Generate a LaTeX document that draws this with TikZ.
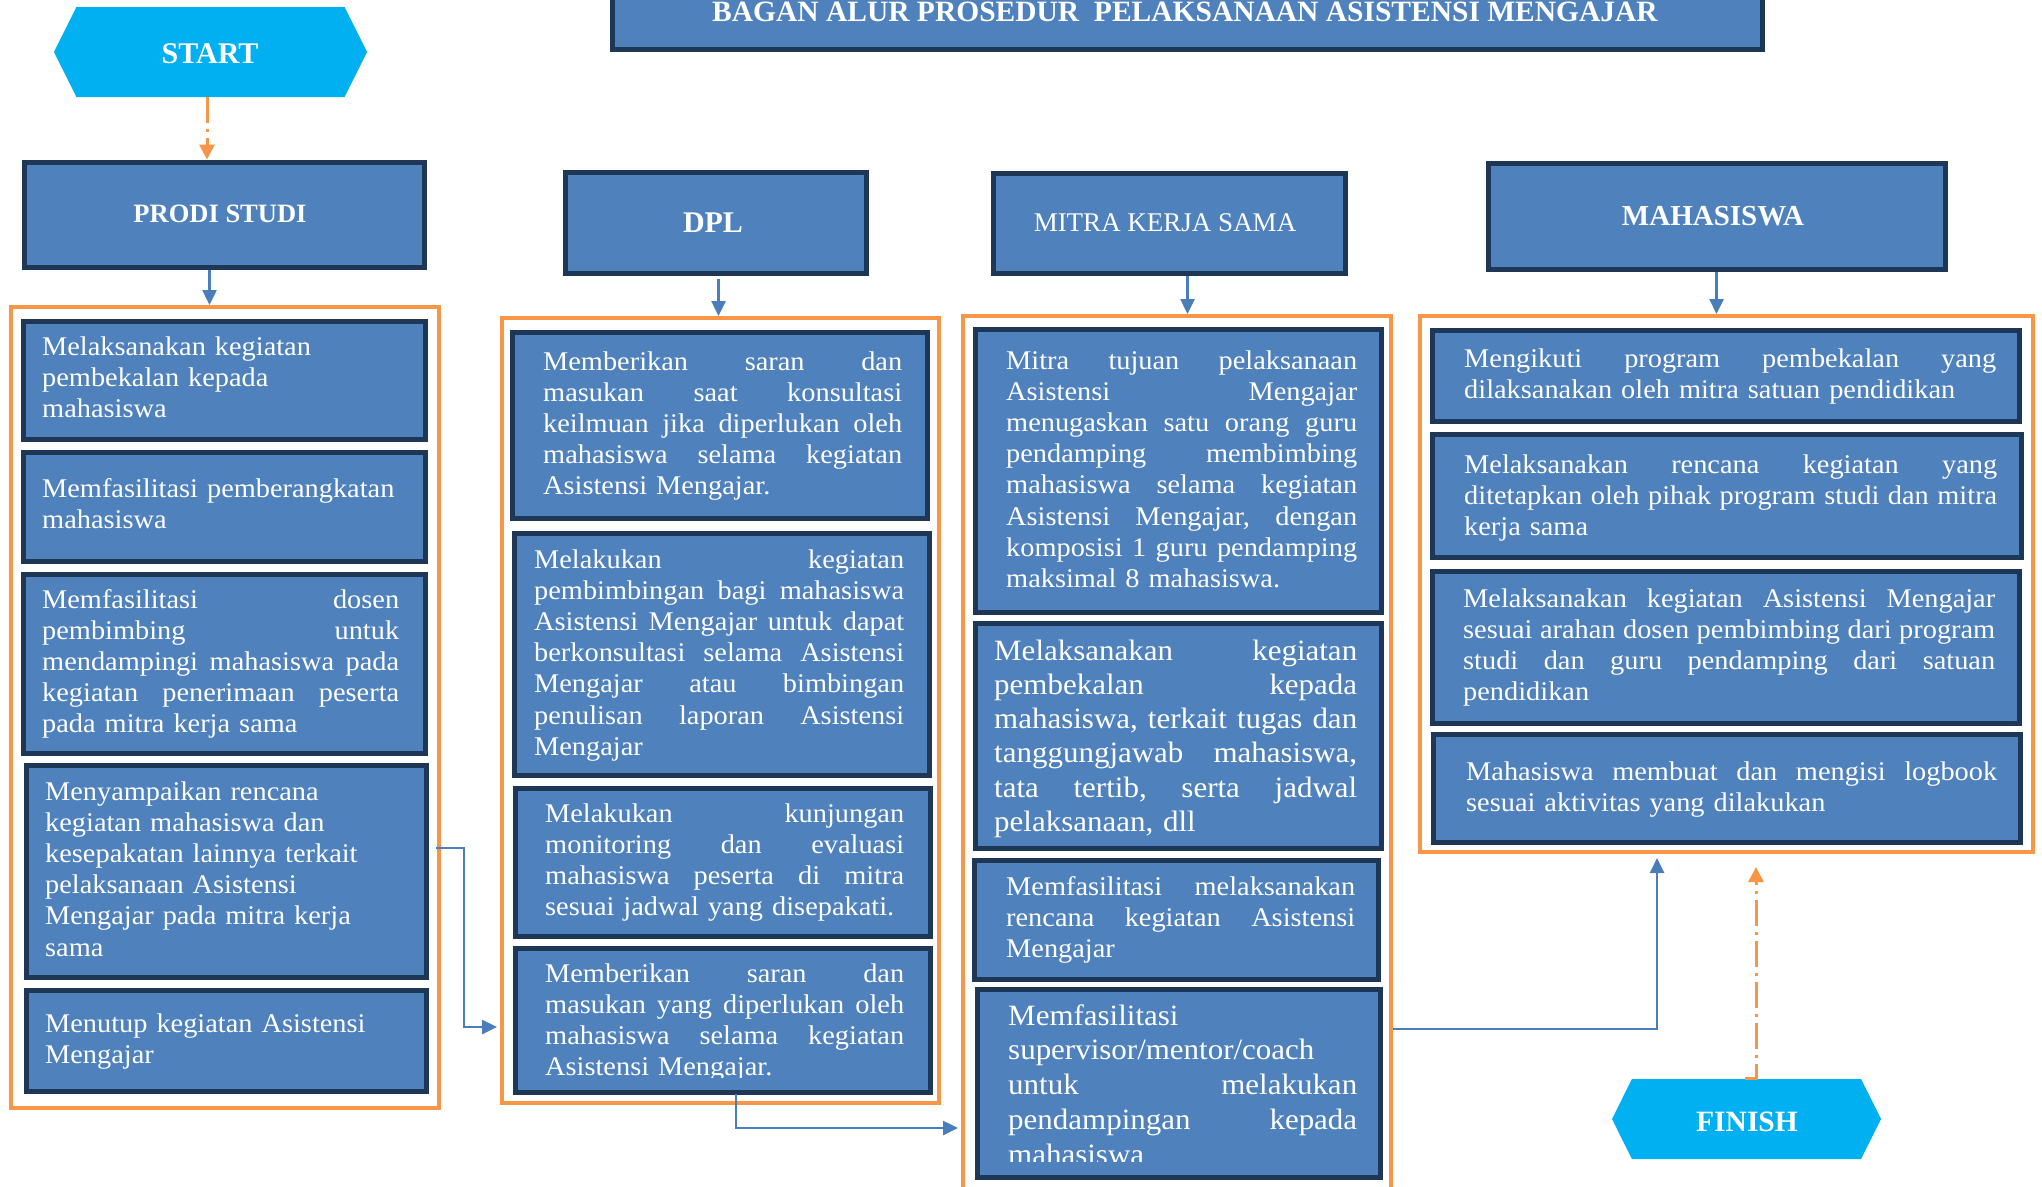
\documentclass[tikz,border=0pt]{standalone}
\usepackage{fontspec}
\setmainfont{Liberation Serif}
\newfontfamily\bodyfont[FakeStretch=1.05]{Liberation Serif}
\usetikzlibrary{arrows.meta,shapes.symbols}
\definecolor{boxblue}{HTML}{4F81BD}
\definecolor{navyb}{HTML}{1F3756}
\definecolor{orng}{HTML}{F79646}
\definecolor{hexcyan}{HTML}{00B0F0}
\definecolor{connblue}{HTML}{4A7EBB}
\newlength\jw
\ExplSyntaxOn
\tl_new:N \l_jline_tl
\NewDocumentCommand \J { m }
 {
  \tl_set:Nn \l_jline_tl { #1 }
  \tl_replace_all:Nnn \l_jline_tl { ~ } { \hfill }
  \mode_leave_vertical:
  \hbox_to_wd:nn { \jw } { \tl_use:N \l_jline_tl } \\
 }
\ExplSyntaxOff
\tikzset{
 bbox/.style={draw=navyb, fill=boxblue, line width=5pt, inner sep=0pt, anchor=north west},
 cont/.style={draw=orng, line width=4pt, inner sep=0pt, anchor=north west},
 hexa/.style={signal, signal to=east and west, signal pointer angle=127, fill=hexcyan, draw=none, inner sep=0pt},
 btext/.style={anchor=base west, inner sep=0pt, text=white, align=left, font=\bodyfont\fontsize{27}{31.2}\selectfont},
 bigtext/.style={btext, font=\bodyfont\fontsize{29.5}{34.3}\selectfont},
 bigtextb/.style={btext, font=\bodyfont\fontsize{29.5}{34.8}\selectfont},
 htext/.style={anchor=base, inner sep=0pt, text=white, font=\bfseries\fontsize{27}{30}\selectfont},
 conn/.style={draw=connblue, line width=2.5pt, -{Triangle[length=15pt,width=14pt]}},
 dashconn/.style={draw=orng, line width=3pt, dash pattern=on 26pt off 6pt on 3pt off 6pt, -{Triangle[length=15pt,width=15pt]}},
}
\newcommand\bx[5]{\node[bbox, minimum width={(#4-#2-5)*1pt}, minimum height={(#5-#3-5)*1pt}] (#1) at (#2+2.5,#3+2.5) {};}
\newcommand\cbx[5]{\node[cont, minimum width={(#4-#2-4)*1pt}, minimum height={(#5-#3-4)*1pt}] (#1) at (#2+2,#3+2) {};}
\newcommand\tx[6][btext]{\setlength\jw{#5pt}\node[#1, text width=#5pt] (#2) at (#3,#4) {#6};}
\begin{document}
\begin{tikzpicture}[x=1pt,y=-1pt]
\useasboundingbox (0,0) rectangle (2042,1186);
\fill[white] (0,0) rectangle (2042,1186);

% title
\bx{title}{607}{-30}{1762}{49}
\node[htext, font=\bfseries\fontsize{29.5}{32}\selectfont] (titletext) at (1185,21) {BAGAN ALUR PROSEDUR\ \ PELAKSANAAN ASISTENSI MENGAJAR};

% start / finish
\node[hexa, minimum width=313pt, minimum height=90pt] (start) at (210.5,52) {};
\node[htext, font=\bfseries\fontsize{30}{32}\selectfont] (starttext) at (210,63) {START};
\node[hexa, minimum width=269pt, minimum height=80pt] (finish) at (1746.5,1119) {};
\node[htext, font=\bfseries\fontsize{29.5}{32}\selectfont] (finishtext) at (1747,1131) {FINISH};

% headers
\bx{prodi}{19}{157}{424}{267}
\node[htext, font=\bfseries\fontsize{26.5}{30}\selectfont] (prodit) at (220,222) {PRODI STUDI};
\bx{dpl}{560}{167}{866}{273}
\node[htext, font=\bfseries\fontsize{30}{32}\selectfont] (dplt) at (713,232) {DPL};
\bx{mitra}{988}{168}{1345}{273}
\node[htext, font=\fontsize{27}{30}\selectfont] (mitrat) at (1165,231) {MITRA KERJA SAMA};
\bx{mhs}{1483}{158}{1945}{269}
\node[htext, font=\bfseries\fontsize{29}{32}\selectfont] (mhst) at (1713,225) {MAHASISWA};

% containers
\cbx{prodiC}{7}{303}{439}{1108}
\cbx{dplC}{498}{314}{939}{1103}
\cbx{mitraC}{959}{312}{1391}{1189}
\cbx{mhsC}{1416}{312}{2033}{852}

% PRODI column
\bx{p1}{18}{316}{425}{439}
\tx{p1t}{42}{355}{357}{Melaksanakan kegiatan\\ pembekalan kepada\\ mahasiswa}
\bx{p2}{18}{447}{425}{561}
\tx{p2t}{42}{497}{357}{Memfasilitasi pemberangkatan\\ mahasiswa}
\bx{p3}{18}{569}{425}{753}
\tx{p3t}{42}{608}{357}{\J{Memfasilitasi dosen}\J{pembimbing untuk}\J{mendampingi mahasiswa pada}\J{kegiatan penerimaan peserta}pada mitra kerja sama}
\bx{p4}{21}{760}{426}{977}
\tx{p4t}{45}{800}{355}{Menyampaikan rencana\\ kegiatan mahasiswa dan\\ kesepakatan lainnya terkait\\ pelaksanaan Asistensi\\ Mengajar pada mitra kerja\\ sama}
\bx{p5}{21}{985}{426}{1091}
\tx{p5t}{45}{1032}{355}{Menutup kegiatan Asistensi\\ Mengajar}

% DPL column
\bx{d1}{507}{327}{927}{518}
\tx{d1t}{543}{370}{359}{\J{Memberikan saran dan}\J{masukan saat konsultasi}\J{keilmuan jika diperlukan oleh}\J{mahasiswa selama kegiatan}Asistensi Mengajar.}
\bx{d2}{509}{528}{929}{775}
\tx{d2t}{534}{568}{370}{\J{Melakukan kegiatan}\J{pembimbingan bagi mahasiswa}\J{Asistensi Mengajar untuk dapat}\J{berkonsultasi selama Asistensi}\J{Mengajar atau bimbingan}\J{penulisan laporan Asistensi}Mengajar}
\bx{d3}{510}{783}{930}{936}
\tx{d3t}{545}{822}{359}{\J{Melakukan kunjungan}\J{monitoring dan evaluasi}\J{mahasiswa peserta di mitra}sesuai jadwal yang disepakati.}
\bx{d4}{510}{943}{930}{1092}
\begin{scope}
\clip (515,948) rectangle (925,1077);
\tx{d4t}{545}{982}{359}{\J{Memberikan saran dan}\J{masukan yang diperlukan oleh}\J{mahasiswa selama kegiatan}Asistensi Mengajar.}
\end{scope}

% MITRA column
\bx{m1}{970}{324}{1381}{612}
\tx{m1t}{1006}{369}{351}{\J{Mitra tujuan pelaksanaan}\J{Asistensi Mengajar}\J{menugaskan satu orang guru}\J{pendamping membimbing}\J{mahasiswa selama kegiatan}\J{Asistensi Mengajar, dengan}\J{komposisi 1 guru pendamping}maksimal 8 mahasiswa.}
\bx{m2}{970}{618}{1381}{848}
\tx[bigtext]{m2t}{994}{660}{363}{\J{Melaksanakan kegiatan}\J{pembekalan kepada}\J{mahasiswa, terkait tugas dan}\J{tanggungjawab mahasiswa,}\J{tata tertib, serta jadwal}pelaksanaan, dll}
\bx{m3}{969}{855}{1378}{979}
\tx{m3t}{1006}{895}{349}{\J{Memfasilitasi melaksanakan}\J{rencana kegiatan Asistensi}Mengajar}
\bx{m4}{972}{984}{1380}{1177}
\begin{scope}
\clip (977,989) rectangle (1375,1161.5);
\tx[bigtextb]{m4t}{1008}{1025}{349}{Memfasilitasi\\ supervisor/mentor/coach\\ \J{untuk melakukan}\J{pendampingan kepada}mahasiswa}
\end{scope}

% MAHASISWA column
\bx{h1}{1427}{325}{2019}{421}
\tx{h1t}{1464}{367}{532}{\J{Mengikuti program pembekalan yang}dilaksanakan oleh mitra satuan pendidikan}
\bx{h2}{1427}{429}{2021}{557}
\tx{h2t}{1464}{473}{533}{\J{Melaksanakan rencana kegiatan yang}\J{ditetapkan oleh pihak program studi dan mitra}kerja sama}
\bx{h3}{1427}{566}{2019}{723}
\tx{h3t}{1463}{607}{532}{\J{Melaksanakan kegiatan Asistensi Mengajar}\J{sesuai arahan dosen pembimbing dari program}\J{studi dan guru pendamping dari satuan}pendidikan}
\bx{h4}{1428}{729}{2020}{842}
\tx{h4t}{1466}{780}{531}{\J{Mahasiswa membuat dan mengisi logbook}sesuai aktivitas yang dilakukan}

% connectors
\draw[dashconn] ([xshift=-3.5pt]start.south) -- ([xshift=-3.5pt]start.south |- prodi.north);
\draw[conn] ([xshift=-14.5pt]prodi.south) -- ([xshift=-14.5pt]prodi.south |- prodiC.north);
\draw[conn] ([xshift=3pt,yshift=-3pt]dpl.south) -- ([xshift=3pt]dpl.south |- dplC.north);
\draw[conn] ([xshift=18.5pt]mitra.south) -- ([xshift=18.5pt]mitra.south |- mitraC.north);
\draw[conn] (mhs.south) -- (mhs.south |- mhsC.north);

\coordinate (k1s) at (436,848);
\coordinate (k1e) at (497,1027);
\draw[conn] (k1s) -- ++(28,0) |- (k1e);
\coordinate (k2s) at (736,1094);
\coordinate (k2e) at (958,1128);
\draw[conn] (k2s) |- (k2e);
\coordinate (k3s) at (1393,1029);
\coordinate (k3e) at (1657,858);
\draw[conn] (k3s) -| (k3e);
\coordinate (k4e) at (1756,867);
\draw[dashconn] ([xshift=-2pt]finish.north) -| (k4e);
\end{tikzpicture}
\end{document}
